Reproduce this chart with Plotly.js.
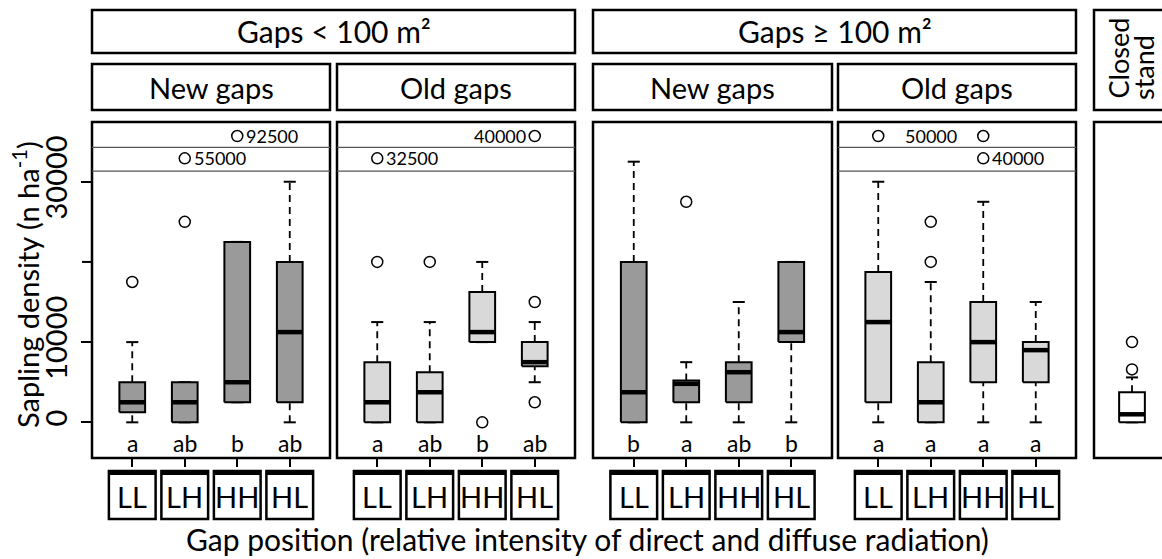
<!DOCTYPE html>
<html>
<head>
<meta charset="utf-8">
<script src="https://cdn.plot.ly/plotly-3.0.1.min.js"></script>
<style>html,body{margin:0;padding:0;background:#fff;}#chart{width:1162px;height:559px;}</style>
</head>
<body>
<div id="chart"></div>
<script>
// ---------------- DATA ----------------
const categories = ["LL", "LH", "HH", "HL"];
const sizeGroups = ["Gaps < 100 m²", "Gaps ≥ 100 m²"];
const panelNames = ["New gaps", "Old gaps", "New gaps", "Old gaps"];
const closedLabel = ["Closed", "stand"];
// one row per panel (small-new, small-old, large-new, large-old, closed stand)
const lowerWhisker = [[0, 0, 2500, 0], [0, 0, 10000, 5000], [0, 0, 0, 0], [0, 0, 0, 0], [0]];
const q1Values     = [[1250, 0, 2500, 2500], [0, 0, 10000, 7000], [0, 2500, 2500, 10000], [2500, 0, 5000, 5000], [0]];
const medianValues = [[2500, 2500, 5000, 11250], [2500, 3750, 11250, 7500], [3750, 4800, 6250, 11250], [12500, 2500, 10000, 9000], [1000]];
const q3Values     = [[5000, 5000, 22500, 20000], [7500, 6250, 16250, 10000], [20000, 5200, 7500, 20000], [18750, 7500, 15000, 10000], [3750]];
const upperWhisker = [[10000, 5000, 22500, 30000], [12500, 12500, 20000, 12500], [32500, 7500, 15000, 20000], [30000, 17500, 27500, 15000], [5600]];
// outliers inside the axis range
const outlierPanel = [0, 0, 1, 1, 1, 1, 1, 2, 3, 3, 4, 4];
const outlierCat   = [1, 2, 1, 2, 3, 4, 4, 2, 2, 2, 1, 1];
const outlierValue = [17500, 25000, 20000, 20000, 0, 15000, 2500, 27500, 20000, 25000, 6600, 10000];
// extreme outliers shown in the broken band at the top
const farPanel = [0, 0, 1, 1, 3, 3, 3];
const farCat   = [3, 2, 4, 1, 1, 3, 3];
const farValue = [92500, 55000, 40000, 32500, 50000, 50000, 40000];
const farRow   = [1, 2, 1, 2, 1, 1, 2];
// labels of extreme outliers
const farLabelPanel = [0, 0, 1, 1, 3, 3];
const farLabelCat   = [3, 2, 4, 1, 2, 3];
const farLabelText  = ["92500", "55000", "40000", "32500", "50000", "40000"];
const farLabelRow   = [1, 2, 1, 2, 1, 2];
const farLabelSide  = ["right", "right", "left", "right", "center", "right"];
// significance letters
const letters = [["a", "ab", "b", "ab"], ["a", "ab", "b", "ab"], ["b", "a", "ab", "b"], ["a", "a", "a", "a"]];
const yTickVals = [0, 10000, 30000];
const yTickText = ["0", "10000", "30000"];
const yMinorTick = [20000];
const xTitle = "Gap position (relative intensity of direct and diffuse radiation)";
const yTitle = "Sapling density (n ha<sup>-1</sup>)";

// ---------------- LAYOUT ----------------
const W = 1162, H = 559;
const FONT = "Lato, 'Open Sans', sans-serif";
const px = x => x / W;
const py = y => 1 - y / H;
const panelLeft  = [92, 337, 593, 838, 1094];
const panelRight = [330, 575, 832, 1076, 1175];
const panelTop = 122, panelBottom = 458;
const fills = ["#9a9a9a", "#d9d9d9", "#9a9a9a", "#d9d9d9", "#ffffff"];
const yRange = [-4450, 37450];
const bandLines = [34290, 31330];
const bandRowY = {1: 35700, 2: 32920};
const letterY = -2600;
const hw = 0.245, cw = 0.115;

const traces = [];
const shapes = [];
const annotations = [];
const layout = {
  width: W, height: H,
  margin: {l: 0, r: 0, t: 0, b: 0},
  paper_bgcolor: "#fff", plot_bgcolor: "rgba(0,0,0,0)",
  showlegend: false,
  font: {family: FONT, color: "#000"},
  shapes: shapes, annotations: annotations
};

const ax = i => (i === 0 ? "x" : "x" + (i + 1));
const axKey = i => (i === 0 ? "xaxis" : "xaxis" + (i + 1));

for (let p = 0; p < 5; p++) {
  const nCat = p < 4 ? 4 : 1;
  const widthPx = Math.min(panelRight[p], W) - panelLeft[p];
  const unit = 52.5;
  const start = p < 4 ? 2.5 - (panelRight[p] - panelLeft[p]) / unit / 2 : 1 - 38 / unit;
  layout[axKey(p)] = {
    domain: [px(panelLeft[p]), px(Math.min(panelRight[p], W))],
    range: [start, start + widthPx / unit],
    anchor: "y",
    showgrid: false, zeroline: false, showline: false,
    tickvals: p < 4 ? [1, 2, 3, 4] : [],
    ticks: p < 4 ? "outside" : "", ticklen: 8, tickwidth: 2, tickcolor: "#000",
    showticklabels: false, fixedrange: true
  };
  for (let c = 0; c < nCat; c++) {
    const x = c + 1;
    const lo = lowerWhisker[p][c], q1 = q1Values[p][c], md = medianValues[p][c], q3 = q3Values[p][c], hi = upperWhisker[p][c];
    const wx = [], wy = [];
    if (hi > q3) { wx.push(x, x, null); wy.push(q3, hi, null); }
    if (lo < q1) { wx.push(x, x, null); wy.push(lo, q1, null); }
    if (wx.length) traces.push({type: "scatter", mode: "lines", xaxis: ax(p), yaxis: "y", x: wx, y: wy,
      line: {color: "#000", width: 1.8, dash: "7px,5px"}, hoverinfo: "skip"});
    traces.push({type: "scatter", mode: "lines", xaxis: ax(p), yaxis: "y",
      x: [x - cw, x + cw, null, x - cw, x + cw], y: [hi, hi, null, lo, lo],
      line: {color: "#000", width: 2}, hoverinfo: "skip"});
    traces.push({type: "scatter", mode: "lines", xaxis: ax(p), yaxis: "y",
      x: [x - hw, x + hw, x + hw, x - hw, x - hw], y: [q1, q1, q3, q3, q1],
      fill: "toself", fillcolor: fills[p], line: {color: "#000", width: 2}, hoverinfo: "skip"});
    traces.push({type: "scatter", mode: "lines", xaxis: ax(p), yaxis: "y",
      x: [x - hw, x + hw], y: [md, md], line: {color: "#000", width: 4.5}, hoverinfo: "skip"});
    if (p < 4) annotations.push({xref: ax(p), yref: "y", x: x, y: letterY, text: letters[p][c], showarrow: false,
      font: {size: 23, family: FONT}, xanchor: "center", yanchor: "middle"});
  }
  shapes.push({type: "rect", xref: "paper", yref: "paper", x0: px(panelLeft[p]), x1: px(panelRight[p]),
    y0: py(panelBottom), y1: py(panelTop), line: {color: "#000", width: 2.5}, layer: "above"});
}

for (let p = 0; p < 5; p++) {
  const xs = [], ys = [];
  outlierPanel.forEach((op, i) => { if (op === p) { xs.push(outlierCat[i]); ys.push(outlierValue[i]); } });
  if (xs.length) traces.push({type: "scatter", mode: "markers", xaxis: ax(p), yaxis: "y", x: xs, y: ys,
    marker: {symbol: "circle-open", size: 11, color: "#000", line: {width: 1.5, color: "#000"}}, hoverinfo: "skip"});
}
[0, 1, 3].forEach(p => {
  bandLines.forEach(v => shapes.push({type: "line", xref: "paper", yref: "y", x0: px(panelLeft[p]), x1: px(panelRight[p]),
    y0: v, y1: v, line: {color: "#555", width: 1.2}}));
  const xs = [], ys = [], vals = [];
  farPanel.forEach((fp, i) => { if (fp === p) { xs.push(farCat[i]); ys.push(bandRowY[farRow[i]]); vals.push(farValue[i]); } });
  traces.push({type: "scatter", mode: "markers", xaxis: ax(p), yaxis: "y", x: xs, y: ys, customdata: vals,
    marker: {symbol: "circle-open", size: 11, color: "#000", line: {width: 1.5, color: "#000"}}, hoverinfo: "skip"});
});
farLabelPanel.forEach((p, i) => {
  const side = farLabelSide[i];
  annotations.push({xref: ax(p), yref: "y", x: farLabelCat[i], y: bandRowY[farLabelRow[i]], text: farLabelText[i],
    showarrow: false, font: {size: 18, family: FONT},
    xanchor: side === "right" ? "left" : (side === "left" ? "right" : "center"),
    xshift: side === "right" ? 7 : (side === "left" ? -7 : 0), yanchor: "middle"});
});

layout.yaxis = {
  domain: [py(panelBottom), py(panelTop)], range: yRange, anchor: "x",
  showgrid: false, zeroline: false, showline: false,
  tickvals: yTickVals, ticktext: yTickText, ticks: "outside", ticklen: 10, tickwidth: 2, tickcolor: "#000",
  tickangle: -90, tickfont: {size: 29, family: FONT, color: "#000"}, ticklabelstandoff: 2, fixedrange: true
};
yMinorTick.forEach(v => shapes.push({type: "line", xref: "paper", yref: "y", x0: px(82), x1: px(92), y0: v, y1: v,
  line: {color: "#000", width: 2}}));

function headerBox(x0, x1, y0, y1, text, size) {
  shapes.push({type: "rect", xref: "paper", yref: "paper", x0: px(x0), x1: px(x1), y0: py(y1), y1: py(y0),
    line: {color: "#000", width: 2.5}, fillcolor: "#fff"});
  if (text) annotations.push({xref: "paper", yref: "paper", x: px((x0 + x1) / 2), y: py((y0 + y1) / 2), text: text,
    showarrow: false, font: {size: size, family: FONT}, xanchor: "center", yanchor: "middle"});
}
headerBox(92, 575, 10, 53, sizeGroups[0], 30);
headerBox(593, 1076, 10, 53, sizeGroups[1], 30);
for (let p = 0; p < 4; p++) headerBox(panelLeft[p], panelRight[p], 64, 110, panelNames[p], 29);
headerBox(1094, 1175, 10, 110, "", 27);
annotations.push({xref: "paper", yref: "paper", x: px(1118), y: py(101), text: closedLabel[0], textangle: -90,
  showarrow: false, font: {size: 27, family: FONT}, xanchor: "center", yanchor: "bottom"});
annotations.push({xref: "paper", yref: "paper", x: px(1161), y: py(101), text: closedLabel[1], textangle: -90,
  showarrow: false, font: {size: 27, family: FONT}, xanchor: "right", yanchor: "bottom", borderpad: 0});

for (let p = 0; p < 4; p++) {
  categories.forEach((cat, c) => {
    const x = c + 1, bw = 0.445;
    shapes.push({type: "rect", xref: ax(p), yref: "paper", x0: x - bw, x1: x + bw, y0: py(519), y1: py(471),
      line: {color: "#000", width: 2.5}});
    shapes.push({type: "line", xref: ax(p), yref: "paper", x0: x - bw, x1: x + bw, y0: py(473), y1: py(473),
      line: {color: "#000", width: 4}});
    annotations.push({xref: ax(p), yref: "paper", x: x, y: py(496), text: cat, showarrow: false,
      font: {size: 29, family: FONT}, xanchor: "center", yanchor: "middle"});
  });
}

annotations.push({xref: "paper", yref: "paper", x: px(587), y: py(539), text: xTitle, showarrow: false,
  font: {size: 30, family: FONT}, xanchor: "center", yanchor: "middle"});
annotations.push({xref: "paper", yref: "paper", x: px(26), y: py(285), text: yTitle, showarrow: false, textangle: -90,
  font: {size: 29, family: FONT}, xanchor: "center", yanchor: "middle"});

Plotly.newPlot("chart", traces, layout, {staticPlot: true, displayModeBar: false});
</script>
</body>
</html>
